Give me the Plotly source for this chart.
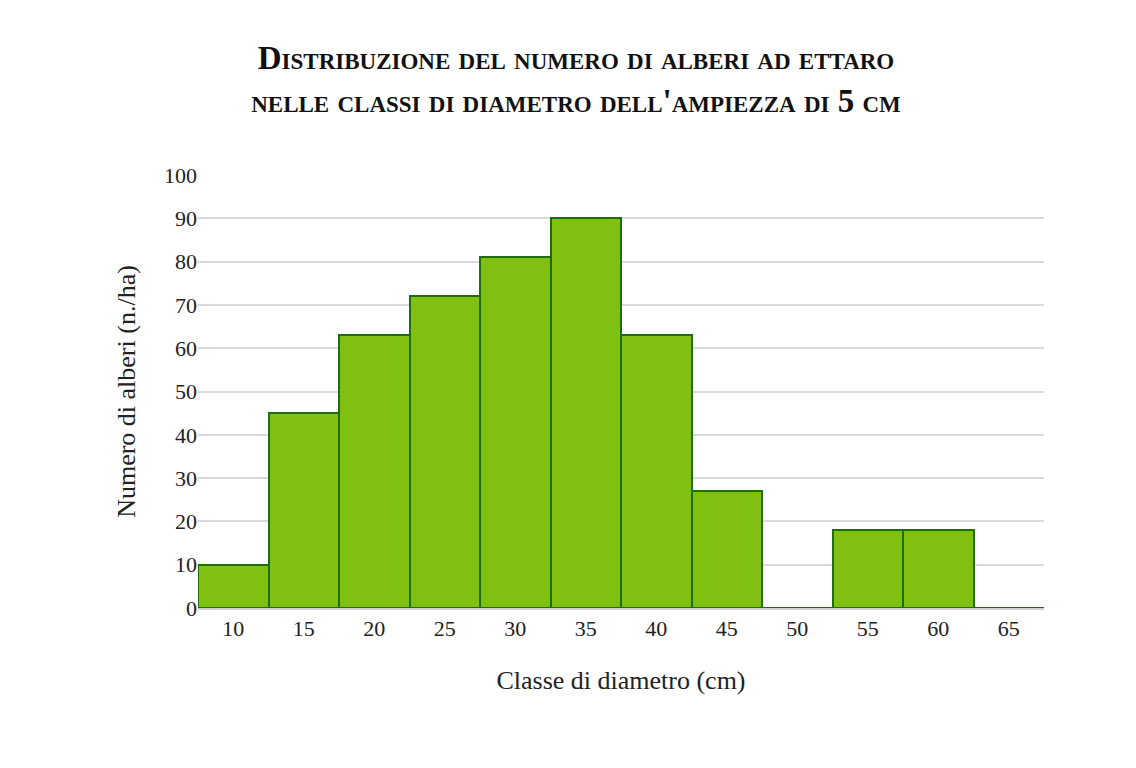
import plotly.graph_objects as go

classes = ["10","15","20","25","30","35","40","45","50","55","60","65"]
trees = [10, 45, 63, 72, 81, 90, 63, 27, 0, 18, 18, 0]

fig = go.Figure(go.Bar(
    x=classes, y=trees,
    marker=dict(color="#7fc010", line=dict(color="#1e6e0e", width=2)),
))
fig.update_layout(
    width=1136, height=768, plot_bgcolor="white", paper_bgcolor="white",
    bargap=0,
    font=dict(family="Liberation Serif", size=22, color="#222"),
    title=dict(text="Distribuzione del numero di alberi ad ettaro<br>nelle classi di diametro dell'ampiezza di 5 cm",
               x=0.5, xanchor="center", y=0.92,
               font=dict(family="Liberation Serif", size=33, color="#111", weight="bold", variant="small-caps")),
    margin=dict(l=190, r=100, t=167, b=168),
    xaxis=dict(title=dict(text="Classe di diametro (cm)", standoff=30), showline=True, linecolor="#d0d0d0",
               linewidth=2, ticks=""),
    yaxis=dict(title=dict(text="Numero di alberi (n./ha)", standoff=20), range=[0, 100], dtick=10,
               gridcolor="#d9d9d9", gridwidth=2, zeroline=False),
)
fig.write_html("out.html")
